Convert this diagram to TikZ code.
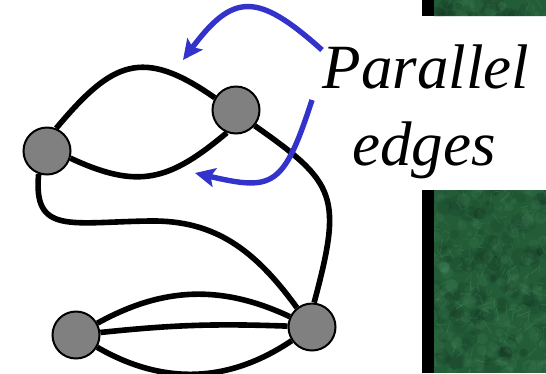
\documentclass[tikz,border=0pt]{standalone}
\usepackage{fontspec}
\setmainfont{Liberation Serif}
\usetikzlibrary{arrows.meta}
\definecolor{vgray}{HTML}{808080}
\definecolor{callblue}{HTML}{3333CC}
\definecolor{marble}{HTML}{235D38}
\definecolor{vein}{HTML}{5FA57A}
\pgfdeclarelayer{bg}
\pgfsetlayers{bg,main}
\begin{document}
\begin{tikzpicture}[x=1pt,y=1pt,
  vtx/.style={circle,draw=black,line width=2pt,fill=vgray,minimum size=47pt,inner sep=0pt},
  gedge/.style={line width=5.6pt,black},
  bluearrow/.style={line width=5.4pt,callblue,-{Stealth[length=20pt,width=19pt,inset=4pt]}},
  lbl/.style={font=\fontsize{63}{76}\selectfont\itshape,inner sep=0pt,anchor=base}]
\useasboundingbox (0,0) rectangle (546,-373);

% marble panel on the right, cut into a top strip and a lower block
\begin{scope}
  \clip (434,0) rectangle (546,-16) (434,-190) rectangle (546,-373);
  \fill[marble] (434,0) rectangle (546,-373);
  \pgfmathsetseed{42}
  \foreach \i in {1,...,260}{
    \pgfmathsetmacro{\px}{434+112*rnd}
    \pgfmathsetmacro{\py}{-373*rnd}
    \pgfmathsetmacro{\rr}{3+6*rnd}
    \fill[black,opacity=0.08] (\px,\py) circle (\rr);
  }
  \foreach \i in {1,...,260}{
    \pgfmathsetmacro{\px}{434+112*rnd}
    \pgfmathsetmacro{\py}{-373*rnd}
    \pgfmathsetmacro{\rr}{2+5*rnd}
    \fill[vein,opacity=0.10] (\px,\py) circle (\rr);
  }
  \foreach \i in {1,...,450}{
    \pgfmathsetmacro{\px}{434+112*rnd}
    \pgfmathsetmacro{\py}{-373*rnd}
    \pgfmathsetmacro{\ang}{360*rnd}
    \pgfmathsetmacro{\len}{4+10*rnd}
    \pgfmathsetmacro{\op}{0.08+0.17*rnd}
    \draw[vein,opacity=\op,line width=0.8pt] (\px,\py) -- ++(\ang:\len);
  }
\end{scope}
\fill[black] (422,0) rectangle (434,-16);
\fill[black] (422,-190) rectangle (434,-373);

% vertices
\node[vtx] (A) at (47,-151) {};
\node[vtx] (B) at (236,-110) {};
\node[vtx] (C) at (76,-335) {};
\node[vtx] (D) at (312,-327) {};

% edges, kept underneath the vertices
\begin{pgfonlayer}{bg}
  \draw[gedge] (A.68) to[out=50,in=145,out distance=87pt,in distance=89pt] (B.150);
  \draw[gedge] (A.-17) to[out=-25,in=-140,out distance=75pt,in distance=75pt] (B.-112);
  \draw[gedge] (A.-110) .. controls (33,-235) and (70,-222) .. (150,-221)
                        .. controls (215,-220) and (255,-250) .. (D.128);
  \draw[gedge] (B.-40) to[out=-35,in=75,out distance=100pt,in distance=110pt] (D.85);
  \draw[gedge] (C) to[bend left=27] (D);
  \draw[gedge] (C) to[bend left=4] (D);
  \draw[gedge] (C) to[bend right=32] (D);
\end{pgfonlayer}

% label
\node[lbl] (t1) at (426,-88) {Parallel};
\node[lbl] (t2) at (424,-165) {edges};

% pointers from the label to the two pairs of edges
\coordinate (p1) at (322,-50);
\coordinate (q1) at (183,-60);
\coordinate (p2) at (312,-100);
\coordinate (q2) at (195,-173);
\draw[bluearrow] (p1) .. controls (257,8.5) and (233,6.8) .. (q1);
\draw[bluearrow] (p2) .. controls (283.6,-187.5) and (272.8,-191) .. (q2);
\end{tikzpicture}
\end{document}
